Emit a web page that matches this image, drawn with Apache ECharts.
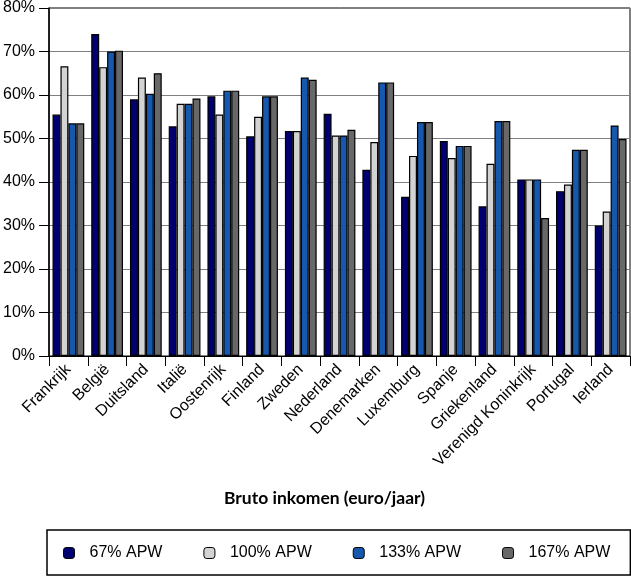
<!DOCTYPE html>
<html><head><meta charset="utf-8">
<script src="https://cdn.jsdelivr.net/npm/echarts@6/dist/echarts.min.js"></script>
<style>html,body{margin:0;padding:0;background:#fff}#c{width:631px;height:580px}</style>
</head><body><div id="c"></div>
<script>
const categories = ['Frankrijk','België','Duitsland','Italië','Oostenrijk','Finland','Zweden','Nederland','Denemarken','Luxemburg','Spanje','Griekenland','Verenigd Koninkrijk','Portugal','Ierland'];
const apw67  = [55.5, 74.0, 59.0, 52.8, 59.7, 50.5, 51.7, 55.7, 42.8, 36.6, 49.4, 34.4, 40.6, 37.9, 30.0];
const apw100 = [66.6, 66.4, 64.0, 58.0, 55.5, 55.0, 51.7, 50.7, 49.2, 46.0, 45.5, 44.2, 40.6, 39.4, 33.2];
const apw133 = [53.5, 70.0, 60.3, 58.0, 61.0, 59.7, 64.0, 50.7, 62.9, 53.8, 48.3, 54.0, 40.6, 47.4, 53.0];
const apw167 = [53.5, 70.2, 65.0, 59.2, 61.0, 59.7, 63.5, 52.0, 62.9, 53.8, 48.3, 54.0, 31.7, 47.4, 49.9];
const seriesNames = ['67% APW','100% APW','133% APW','167% APW'];
const yTicks = [0,10,20,30,40,50,60,70,80];

const colors = ['#000070','#d3d3d3','#1558ad','#686868'];
const tickFont = '"Liberation Sans", Arial, sans-serif';
const chart = echarts.init(document.getElementById('c'), null, {renderer:'canvas'});
const data = [apw67, apw100, apw133, apw167];
chart.setOption({
  animation:false,
  grid:{left:47, right:1, top:6, bottom:224, containLabel:false, show:true, borderColor:'#000', borderWidth:1},
  legend:{
    left:47, top:530,
    itemWidth:11, itemHeight:11, itemGap:41,
    padding:[15,20,14,16],
    borderColor:'#000', borderWidth:1.5,
    textStyle:{fontFamily:tickFont, fontSize:16, color:'#000', padding:[0,0,0,10]},
    data:seriesNames.map((n,i)=>({name:n, itemStyle:{color:colors[i], borderColor:'#000', borderWidth:1}}))
  },
  xAxis:{
    type:'category', data:categories,
    name:'Bruto inkomen (euro/jaar)', nameLocation:'middle', nameGap:133,
    nameTextStyle:{fontFamily:'Lato, sans-serif', fontSize:17.5, fontWeight:'bold', color:'#000', padding:[0,30,0,0]},
    axisLine:{lineStyle:{color:'#000', width:1}},
    axisTick:{show:true, alignWithLabel:false, length:10, lineStyle:{color:'#000'}},
    axisLabel:{rotate:45, interval:0, fontFamily:tickFont, fontSize:16, color:'#000', margin:11}
  },
  yAxis:{
    type:'value', min:0, max:80, interval:10,
    axisLine:{show:true, lineStyle:{color:'#000', width:1.5}},
    axisTick:{show:true, length:10, lineStyle:{color:'#000'}},
    axisLabel:{fontFamily:tickFont, fontSize:16, color:'#000', margin:14, formatter:v=>v+'%'},
    splitLine:{lineStyle:{color:'#808080', width:1.2}}
  },
  series:data.map((d,i)=>({
    name:seriesNames[i], type:'bar', data:d,
    barGap:'0%', barCategoryGap:'18%',
    itemStyle:{color:colors[i], borderColor:'#000', borderWidth:1.2}
  }))
});
</script></body></html>
